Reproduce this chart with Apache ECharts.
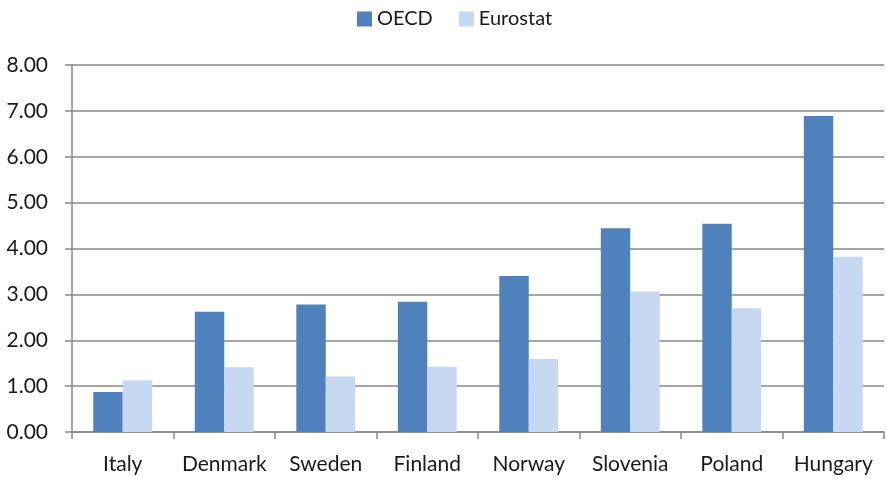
<!DOCTYPE html>
<html>
<head>
<meta charset="utf-8">
<script src="https://cdn.jsdelivr.net/npm/echarts@6/dist/echarts.min.js"></script>
<style>
html,body{margin:0;padding:0;background:#fff;}
#chart{width:887px;height:479px;}
</style>
</head>
<body>
<div id="chart"></div>
<script>
const countries = ['Italy', 'Denmark', 'Sweden', 'Finland', 'Norway', 'Slovenia', 'Poland', 'Hungary'];
const oecd = [0.87, 2.62, 2.78, 2.84, 3.40, 4.44, 4.54, 6.89];
const eurostat = [1.13, 1.41, 1.21, 1.42, 1.59, 3.06, 2.70, 3.82];
const yTicks = { min: 0, max: 8, interval: 1 };

const font = 'Lato, "Open Sans", sans-serif';
const chart = echarts.init(document.getElementById('chart'), null, { renderer: 'canvas' });
chart.setOption({
  animation: false,
  textStyle: { fontFamily: font },
  legend: {
    top: 4,
    left: 352,
    itemWidth: 15,
    itemHeight: 15,
    itemGap: 26,
    icon: 'rect',
    textStyle: { fontSize: 20, color: '#1a1a1a', fontFamily: font }
  },
  grid: { left: 72, right: 3, top: 65, bottom: 47, containLabel: false },
  xAxis: {
    type: 'category',
    data: countries,
    axisLine: { lineStyle: { color: '#888', width: 1.5 } },
    axisTick: { show: true, length: 7, lineStyle: { color: '#888', width: 1.5 } },
    axisLabel: { fontSize: 21, color: '#1a1a1a', margin: 22, interval: 0, fontFamily: font }
  },
  yAxis: {
    type: 'value',
    min: yTicks.min,
    max: yTicks.max,
    interval: yTicks.interval,
    axisLine: { show: true, lineStyle: { color: '#888', width: 1.5 } },
    axisTick: { show: true, length: 7, lineStyle: { color: '#888', width: 1.5 } },
    splitLine: { lineStyle: { color: '#888', width: 1.5 } },
    axisLabel: { fontSize: 21, color: '#1a1a1a', margin: 24, fontFamily: font,
      formatter: v => v.toFixed(2) }
  },
  series: [
    { name: 'OECD', type: 'bar', data: oecd, barGap: '0%', barCategoryGap: '42%',
      itemStyle: { color: '#4F81BD' } },
    { name: 'Eurostat', type: 'bar', data: eurostat, barGap: '0%', barCategoryGap: '42%',
      itemStyle: { color: '#C6D9F1' } }
  ]
});
</script>
</body>
</html>
